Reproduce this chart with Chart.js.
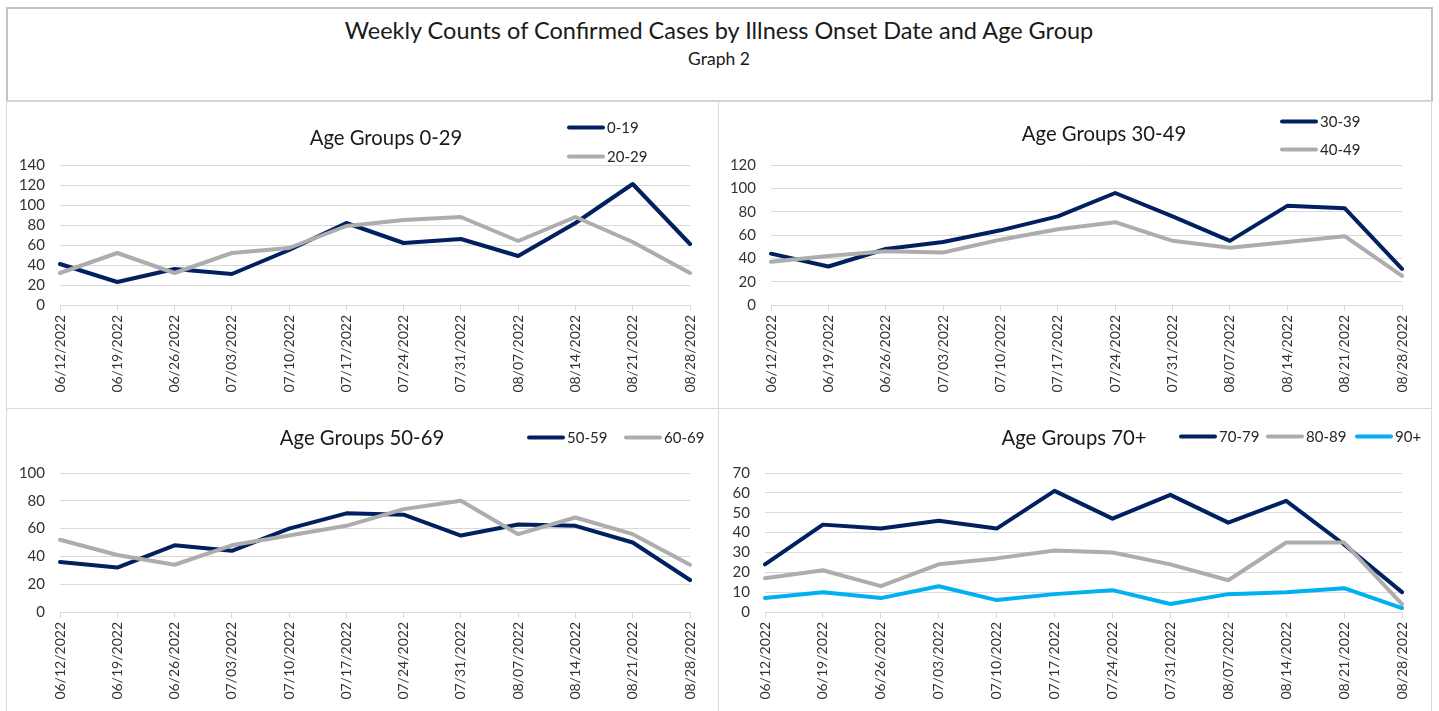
<!DOCTYPE html>
<html>
<head>
<meta charset="utf-8">
<script src="https://cdn.jsdelivr.net/npm/chart.js@4.4.1/dist/chart.umd.min.js"></script>
<style>
  html, body { margin: 0; padding: 0; background: #fff; }
  body { width: 1439px; height: 711px; position: relative; overflow: hidden; font-family: Lato, "Open Sans", sans-serif; color: #1a1a1a; }
  .box { position: absolute; box-sizing: border-box; }
  #titleBox { left: 6px; top: 7px; width: 1427px; height: 95px; border: 2px solid #C4C4C4; border-bottom: 2px solid #D0D0D0; }
  .panel { border: 1px solid #D9D9D9; }
  canvas { position: absolute; }
  .txt { position: absolute; white-space: nowrap; transform: translate(-50%, -50%); line-height: 1; }
  .leg { position: absolute; white-space: nowrap; font-size: 15px; line-height: 1; display: flex; align-items: center; transform: translateY(-50%); color: #262626; }
  .sw { display: inline-block; width: 38px; height: 4px; border-radius: 2px; margin-right: 2px; }
</style>
</head>
<body>
<div class="box" id="titleBox"></div>
<div class="txt" style="left:719px; top:31px; font-size:23.5px;">Weekly Counts of Confirmed Cases by Illness Onset Date and Age Group</div>
<div class="txt" style="left:719px; top:59px; font-size:17.5px;">Graph 2</div>

<div class="box panel" style="left:6px; top:101px; width:713px; height:308px;"></div>
<div class="box panel" style="left:718px; top:101px; width:714px; height:308px;"></div>
<div class="box panel" style="left:6px; top:408px; width:713px; height:310px;"></div>
<div class="box panel" style="left:718px; top:408px; width:714px; height:310px;"></div>

<canvas id="c1" width="711" height="306" style="left:7px; top:102px;"></canvas>
<canvas id="c2" width="712" height="306" style="left:718px; top:102px;"></canvas>
<canvas id="c3" width="711" height="303" style="left:7px; top:408px;"></canvas>
<canvas id="c4" width="712" height="303" style="left:718px; top:408px;"></canvas>

<div class="txt" style="left:386px; top:137px; font-size:20.3px;">Age Groups 0-29</div>
<div class="txt" style="left:1104px; top:133px; font-size:20.3px;">Age Groups 30-49</div>
<div class="txt" style="left:362px; top:437px; font-size:20.3px;">Age Groups 50-69</div>
<div class="txt" style="left:1074px; top:437px; font-size:20.3px;">Age Groups 70+</div>

<div class="leg" style="left:567px; top:127px;"><span class="sw" style="background:#002060"></span>0-19</div>
<div class="leg" style="left:567px; top:156px;"><span class="sw" style="background:#ADADAD"></span>20-29</div>
<div class="leg" style="left:1280px; top:121px;"><span class="sw" style="background:#002060"></span>30-39</div>
<div class="leg" style="left:1280px; top:149px;"><span class="sw" style="background:#ADADAD"></span>40-49</div>
<div class="leg" style="left:527px; top:437px;"><span class="sw" style="background:#002060"></span>50-59</div>
<div class="leg" style="left:624px; top:437px;"><span class="sw" style="background:#ADADAD"></span>60-69</div>
<div class="leg" style="left:1179px; top:436px;"><span class="sw" style="background:#002060"></span>70-79</div>
<div class="leg" style="left:1266px; top:436px;"><span class="sw" style="background:#ADADAD"></span>80-89</div>
<div class="leg" style="left:1355px; top:436px;"><span class="sw" style="background:#00B0F0"></span>90+</div>

<script>
// ---- Data ----
const weeks = ["06/12/2022","06/19/2022","06/26/2022","07/03/2022","07/10/2022","07/17/2022",
               "07/24/2022","07/31/2022","08/07/2022","08/14/2022","08/21/2022","08/28/2022"];

const age0_19  = [41, 23, 36, 31, 55, 82, 62, 66, 49, 82, 121, 61];
const age20_29 = [32, 52, 32, 52, 57, 79, 85, 88, 64, 88, 63, 32];

const age30_39 = [44, 33, 48, 54, 64, 76, 96, 76, 55, 85, 83, 31];
const age40_49 = [37, 42, 46, 45, 56, 65, 71, 55, 49, 54, 59, 25];

const age50_59 = [36, 32, 48, 44, 60, 71, 70, 55, 63, 62, 50, 23];
const age60_69 = [52, 41, 34, 48, 55, 62, 74, 80, 56, 68, 56, 34];

const age70_79 = [24, 44, 42, 46, 42, 61, 47, 59, 45, 56, 34, 10];
const age80_89 = [17, 21, 13, 24, 27, 31, 30, 24, 16, 35, 35, 4];
const age90p   = [7, 10, 7, 13, 6, 9, 11, 4, 9, 10, 12, 2];

const yMax1 = 140, yStep1 = 20;
const yMax2 = 120, yStep2 = 20;
const yMax3 = 100, yStep3 = 20;
const yMax4 = 70,  yStep4 = 10;

const NAVY = "#002060", GRAY = "#ADADAD", CYAN = "#00B0F0";
const FONT = "Lato, 'Open Sans', sans-serif";
const TICK_COLOR = "#333333";
const GRID = "#D9D9D9";

function ds(label, data, color, order) {
  return { label, data, borderColor: color, backgroundColor: color, borderWidth: 4,
           pointRadius: 0, pointHoverRadius: 0, tension: 0, fill: false,
           borderJoinStyle: "round", borderCapStyle: "round", order };
}

function makeChart(id, datasets, yMax, yStep, geo) {
  return new Chart(document.getElementById(id), {
    type: "line",
    data: { labels: weeks, datasets },
    options: {
      responsive: false,
      animation: false,
      events: [],
      layout: { padding: { left: geo.L, right: geo.R, top: geo.T, bottom: geo.B } },
      plugins: { legend: { display: false }, title: { display: false }, tooltip: { enabled: false } },
      scales: {
        x: {
          offset: false,
          grid: { drawOnChartArea: false, drawTicks: true, tickLength: 6, color: GRID, lineWidth: 1 },
          border: { display: true, color: GRID, width: 1 },
          ticks: { autoSkip: false, minRotation: 90, maxRotation: 90, padding: 4,
                   color: TICK_COLOR, font: { family: FONT, size: 14 } },
          afterFit: s => { s.height = geo.H; }
        },
        y: {
          min: 0, max: yMax,
          grid: { color: GRID, lineWidth: 1, drawTicks: false },
          border: { display: false },
          ticks: { stepSize: yStep, autoSkip: false, padding: 15, color: TICK_COLOR, font: { family: FONT, size: 15 } },
          afterFit: s => { s.width = geo.W; }
        }
      }
    }
  });
}

makeChart("c1", [ds("0-19", age0_19, NAVY, 2), ds("20-29", age20_29, GRAY, 1)], yMax1, yStep1,
          { L: 0, W: 53, R: 28, T: 63, B: 8, H: 95 });
makeChart("c2", [ds("30-39", age30_39, NAVY, 2), ds("40-49", age40_49, GRAY, 1)], yMax2, yStep2,
          { L: 0, W: 53, R: 28, T: 63, B: 8, H: 95 });
makeChart("c3", [ds("50-59", age50_59, NAVY, 2), ds("60-69", age60_69, GRAY, 1)], yMax3, yStep3,
          { L: 0, W: 53, R: 28, T: 65, B: 4, H: 95 });
makeChart("c4", [ds("70-79", age70_79, NAVY, 3), ds("80-89", age80_89, GRAY, 2), ds("90+", age90p, CYAN, 1)], yMax4, yStep4,
          { L: 0, W: 47, R: 28, T: 65, B: 4, H: 95 });
</script>
</body>
</html>
